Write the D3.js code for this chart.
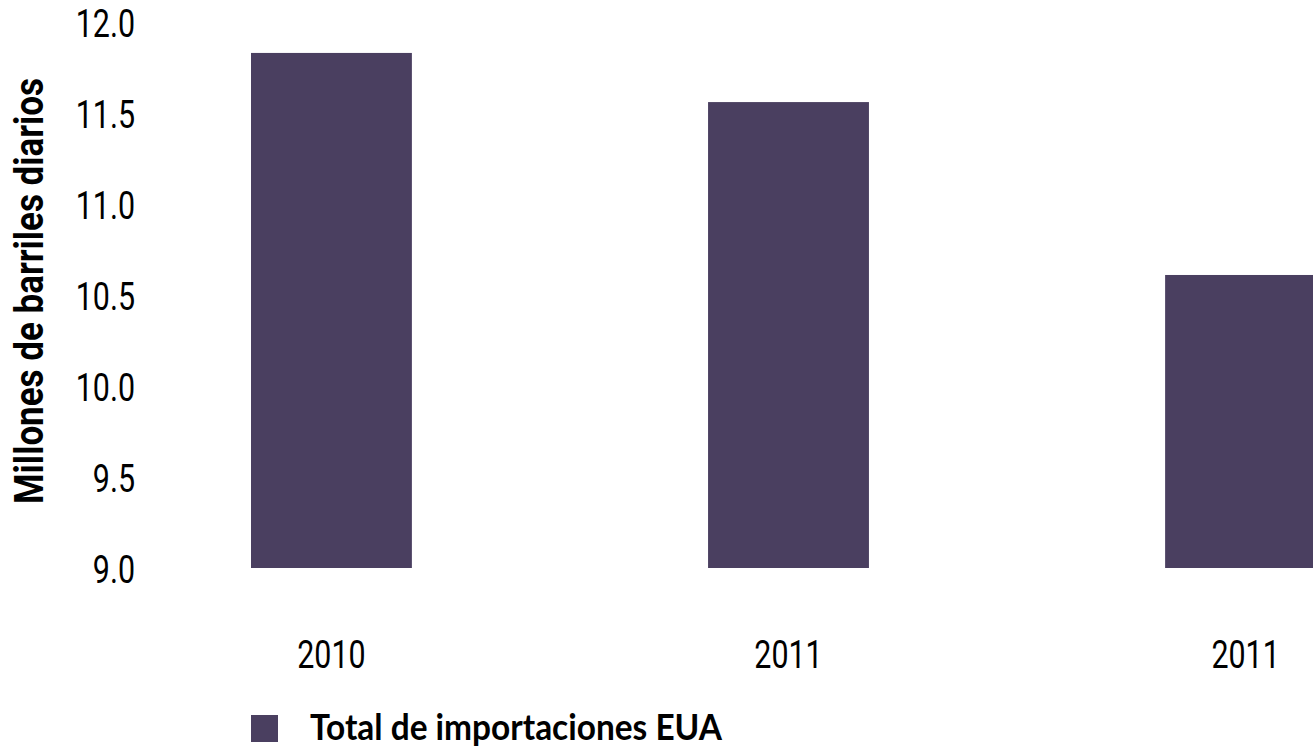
<!DOCTYPE html>
<html>
<head>
<meta charset="utf-8">
<title>Total de importaciones EUA</title>
<script src="https://d3js.org/d3.v7.min.js"></script>
<style>
  body { margin: 0; background: #fff; }
  .tick text { font-family: Roboto, sans-serif; }
</style>
</head>
<body>
<svg width="1313" height="748"></svg>
<script>
// data
var years = ["2010", "2011", "2011"];
var imports = [11.83, 11.56, 10.61];
var yTicks = [9.0, 9.5, 10.0, 10.5, 11.0, 11.5, 12.0];
var seriesName = "Total de importaciones EUA";
var axisTitle = "Millones de barriles diarios";

var svg = d3.select("svg"),
    width = +svg.attr("width"),
    height = +svg.attr("height");

var barColor = "#4a3f60";

// squeeze a text horizontally (the original uses a condensed face)
function condense(sel, k) {
  sel.each(function() {
    var w = this.getComputedTextLength();
    d3.select(this)
      .attr("textLength", w * k)
      .attr("lengthAdjust", "spacingAndGlyphs");
  });
}

var y = d3.scaleLinear()
    .domain([9, 12])
    .range([568, 22]);

var x = d3.scaleBand()
    .domain(d3.range(years.length))
    .range([251, 1326])
    .paddingInner(0.648)
    .paddingOuter(0);

// bars
svg.append("g")
  .selectAll("rect")
  .data(imports)
  .enter().append("rect")
    .attr("x", function(d, i) { return x(i); })
    .attr("y", function(d) { return y(d); })
    .attr("width", x.bandwidth())
    .attr("height", function(d) { return y(9) - y(d); })
    .attr("fill", barColor);

// y axis
var gy = svg.append("g")
    .attr("transform", "translate(145,0)")
    .call(d3.axisLeft(y)
      .tickValues(yTicks)
      .tickFormat(d3.format(".1f"))
      .tickSize(0)
      .tickPadding(10));
gy.select(".domain").remove();
gy.selectAll("text")
    .attr("font-size", 38)
    .attr("dy", "0.37em")
    .attr("fill", "#000")
    .call(condense, 0.8);

// x axis
var gx = svg.append("g")
    .attr("transform", "translate(0,568)")
    .call(d3.axisBottom(x)
      .tickFormat(function(i) { return years[i]; })
      .tickSize(0)
      .tickPadding(73));
gx.select(".domain").remove();
gx.selectAll("text")
    .attr("font-size", 38)
    .attr("fill", "#000")
    .call(condense, 0.8);

// y title
svg.append("text")
    .attr("transform", "translate(43,291) rotate(-90)")
    .attr("text-anchor", "middle")
    .attr("font-family", "Roboto, sans-serif")
    .attr("font-weight", "bold")
    .attr("font-size", 40)
    .attr("fill", "#000")
    .attr("textLength", 426)
    .attr("lengthAdjust", "spacingAndGlyphs")
    .text(axisTitle);

// legend
var legend = svg.append("g")
    .attr("transform", "translate(251,715)");
legend.append("rect")
    .attr("width", 27)
    .attr("height", 27)
    .attr("fill", barColor);
legend.append("text")
    .attr("x", 59)
    .attr("y", 25)
    .attr("font-family", "Lato, sans-serif")
    .attr("font-weight", "bold")
    .attr("font-size", 37)
    .attr("fill", "#000")
    .attr("textLength", 412)
    .attr("lengthAdjust", "spacingAndGlyphs")
    .text(seriesName);
</script>
</body>
</html>
